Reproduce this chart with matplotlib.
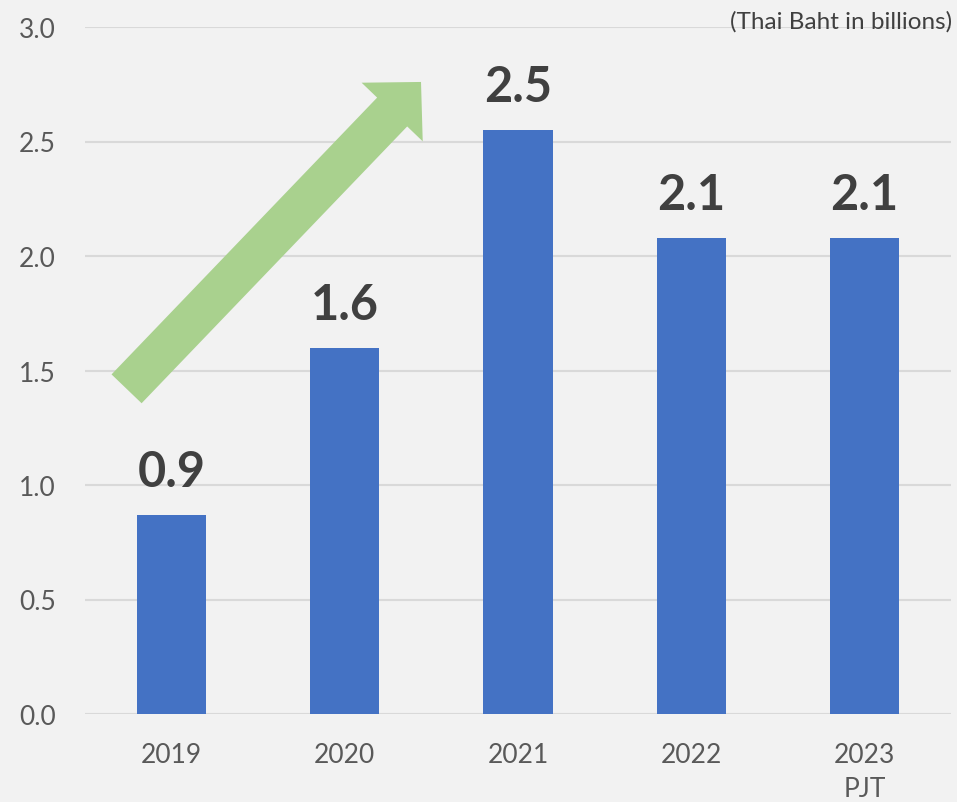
import matplotlib
matplotlib.use("Agg")
import matplotlib.pyplot as plt
from matplotlib.patches import FancyArrowPatch, ArrowStyle

# data
years = ["2019", "2020", "2021", "2022", "2023\nPJT"]
values = [0.87, 1.60, 2.55, 2.08, 2.08]
value_labels = ["0.9", "1.6", "2.5", "2.1", "2.1"]
y_ticks = [0.0, 0.5, 1.0, 1.5, 2.0, 2.5, 3.0]
unit_note = "(Thai Baht in billions)"

BG = "#f2f2f2"
BAR = "#4472c4"
ARROW = "#a9d18e"
GRID = "#d9d9d9"
TICK = "#595959"
LABEL = "#404040"

plt.rcParams["font.family"] = ["Lato", "DejaVu Sans"]

fig = plt.figure(figsize=(9.57, 8.03), dpi=100, facecolor=BG)
ax = fig.add_axes([85 / 957, 88 / 803, 866 / 957, 687 / 803], facecolor=BG)

x = list(range(len(years)))
ax.bar(x, values, width=0.40, color=BAR, zorder=3)

ax.set_xlim(-0.5, len(years) - 0.5)
ax.set_ylim(0, 3.0)
ax.set_yticks(y_ticks)
ax.set_yticklabels([f"{t:.1f}" for t in y_ticks])
ax.set_xticks(x)
ax.set_xticklabels(years, linespacing=1.45, va="top")

ax.grid(axis="y", color=GRID, linewidth=1.5, zorder=0)
ax.set_axisbelow(True)
for s in ax.spines.values():
    s.set_visible(False)
ax.tick_params(axis="both", length=0, labelsize=19, colors=TICK)
ax.tick_params(axis="y", pad=21)
ax.tick_params(axis="x", pad=20)

for xi, v, lab in zip(x, values, value_labels):
    ax.annotate(lab, (xi, v), xytext=(0, 31), textcoords="offset points",
                ha="center", va="center", fontsize=35, fontweight="bold",
                color=LABEL, zorder=5)

# growth arrow (decoration)
arrow = FancyArrowPatch((-0.26, 1.42), (1.44, 2.76),
                        arrowstyle=ArrowStyle.Simple(head_length=30, head_width=61, tail_width=30),
                        mutation_scale=1, shrinkA=0, shrinkB=0,
                        color=ARROW, linewidth=0, zorder=4)
ax.add_patch(arrow)

fig.text(952 / 957, 1 - 22 / 803, unit_note, ha="right", va="center",
         fontsize=17.5, color=LABEL)

fig.savefig("out.png", dpi=100, facecolor=BG)
